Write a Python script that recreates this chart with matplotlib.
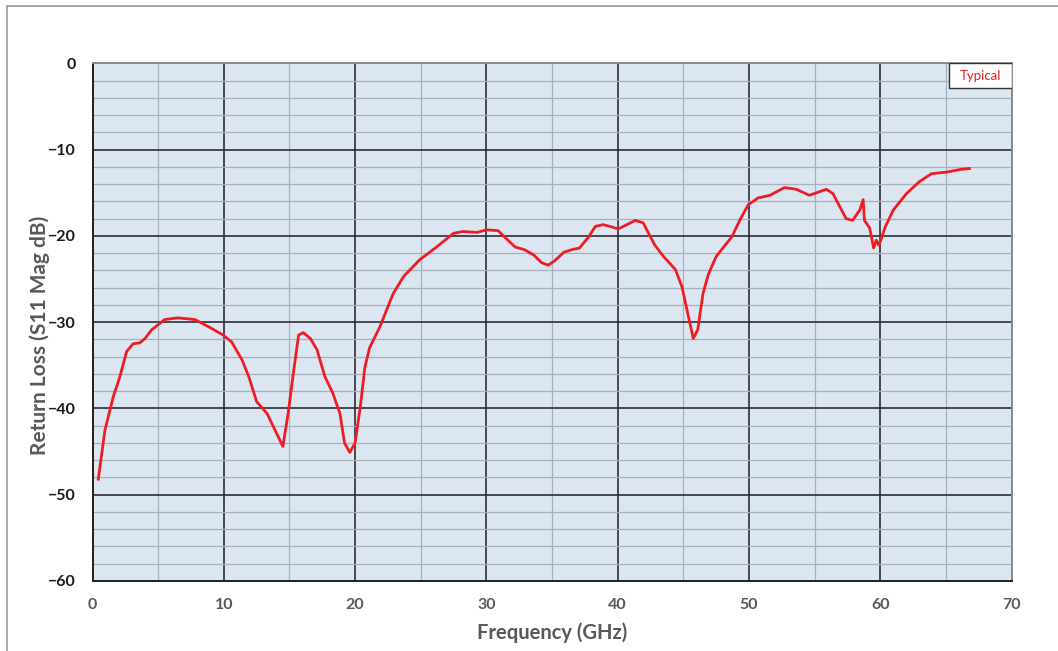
import matplotlib
matplotlib.use("Agg")
import matplotlib.pyplot as plt
from matplotlib.ticker import MultipleLocator
from matplotlib.patches import Rectangle

# return loss trace
freq_ghz = [0.44, 0.95, 1.59, 2.09, 2.6, 3.1, 3.6, 4.0, 4.5, 5.5, 6.5, 7.8, 8.8, 9.96,
            10.6, 11.4, 11.9, 12.5, 13.3, 13.9, 14.5, 14.9, 15.3, 15.7, 16.05, 16.6,
            17.1, 17.7, 18.3, 18.85, 19.2, 19.6, 20.0, 20.4, 20.75, 21.1, 21.9, 22.9,
            23.7, 24.9, 26.2, 27.5, 28.2, 29.3, 30.0, 30.9, 31.5, 32.2, 32.9, 33.6,
            34.2, 34.7, 35.2, 35.9, 36.5, 37.1, 37.8, 38.3, 38.9, 39.4, 40.05, 40.7,
            41.35, 41.95, 42.8, 43.5, 44.4, 44.9, 45.4, 45.76, 46.1, 46.5, 46.9, 47.5,
            48.7, 49.3, 49.95, 50.7, 51.6, 52.7, 53.6, 54.6, 55.9, 56.4, 57.4, 57.9,
            58.45, 58.7, 58.8, 59.2, 59.5, 59.7, 59.9, 60.4, 61.0, 62.0, 63.0, 63.9,
            65.1, 66.1, 66.8]
s11_db = [-48.2, -42.5, -38.6, -36.3, -33.4, -32.5, -32.4, -31.9, -30.9, -29.7, -29.5,
          -29.7, -30.5, -31.5, -32.3, -34.4, -36.3, -39.2, -40.6, -42.5, -44.4, -40.6,
          -35.9, -31.5, -31.2, -31.9, -33.2, -36.3, -38.2, -40.6, -44.0, -45.1, -44.0,
          -39.8, -35.2, -33.0, -30.5, -26.7, -24.7, -22.8, -21.3, -19.7, -19.5, -19.6,
          -19.3, -19.4, -20.3, -21.3, -21.6, -22.2, -23.1, -23.4, -22.9, -21.9, -21.6,
          -21.4, -20.1, -18.9, -18.7, -18.9, -19.2, -18.7, -18.2, -18.5, -21.0, -22.4,
          -23.9, -25.9, -29.4, -31.9, -30.9, -26.7, -24.5, -22.4, -20.1, -18.2, -16.4,
          -15.6, -15.3, -14.4, -14.6, -15.3, -14.6, -15.1, -18.0, -18.2, -17.0, -15.8,
          -18.2, -19.1, -21.4, -20.5, -21.1, -18.9, -17.0, -15.1, -13.7, -12.8, -12.6,
          -12.3, -12.2]

x_ticks = [0, 10, 20, 30, 40, 50, 60, 70]
y_ticks = [0, -10, -20, -30, -40, -50, -60]

fig = plt.figure(figsize=(10.58, 6.51), dpi=100)
plt.rcParams['font.family'] = ['Lato', 'DejaVu Sans']

# thin frame round the chart area
fig.patches.append(Rectangle((7 / 1058, -0.1), 1.2, 1 - 6 / 651 + 0.1, transform=fig.transFigure,
                             fill=False, edgecolor='#9a9a9a', linewidth=1.2))

ax = fig.add_axes([92.5 / 1058, 1 - 581 / 651, (1011.5 - 92.5) / 1058, (581 - 63.3) / 651])
ax.set_facecolor('#dce6f1')
ax.set_xlim(0, 70)
ax.set_ylim(-60, 0)
ax.set_xticks(x_ticks)
ax.set_yticks(y_ticks)
ax.xaxis.set_minor_locator(MultipleLocator(5))
ax.yaxis.set_minor_locator(MultipleLocator(2))
ax.grid(which='major', color='#2b2f36', linewidth=1.2)
ax.grid(which='minor', color='#a7b1bc', linewidth=0.9)
ax.set_axisbelow(True)
ax.tick_params(which='both', length=0)
ax.tick_params(axis='x', pad=12, labelsize=11.5, labelcolor='#595959')
ax.tick_params(axis='y', pad=12, labelsize=11.5, labelcolor='#1a1a1a')
for lbl in ax.get_xticklabels() + ax.get_yticklabels():
    lbl.set_fontweight('bold')

for side in ['left', 'bottom']:
    ax.spines[side].set_color('#222222')
    ax.spines[side].set_linewidth(1.4)
for side in ['top', 'right']:
    ax.spines[side].set_color('#8a8a8a')
    ax.spines[side].set_linewidth(1.4)

ax.plot(freq_ghz, s11_db, color='#ee1c25', linewidth=2.0, solid_joinstyle='round')

ax.set_xlabel('Frequency (GHz)', fontsize=14.5, fontweight='bold', color='#595959', labelpad=8)
ax.set_ylabel('Return Loss (S11 Mag dB)', fontsize=15, fontweight='bold', color='#595959')
ax.yaxis.set_label_coords(-0.046, 0.475)

# "Typical" tag in the top right corner
box_x0 = (949 - 92.5) / 919
box_y0 = 1 - 25 / 517.7
ax.add_patch(Rectangle((box_x0, box_y0), 1 - box_x0, 1 - box_y0, transform=ax.transAxes,
                       facecolor='white', edgecolor='#333333', linewidth=1.0, zorder=5))
ax.text((box_x0 + 1) / 2, (box_y0 + 1) / 2, 'Typical', transform=ax.transAxes,
        ha='center', va='center', fontsize=9.5, color='#e02020', zorder=6)

fig.savefig('out.png', dpi=100)
